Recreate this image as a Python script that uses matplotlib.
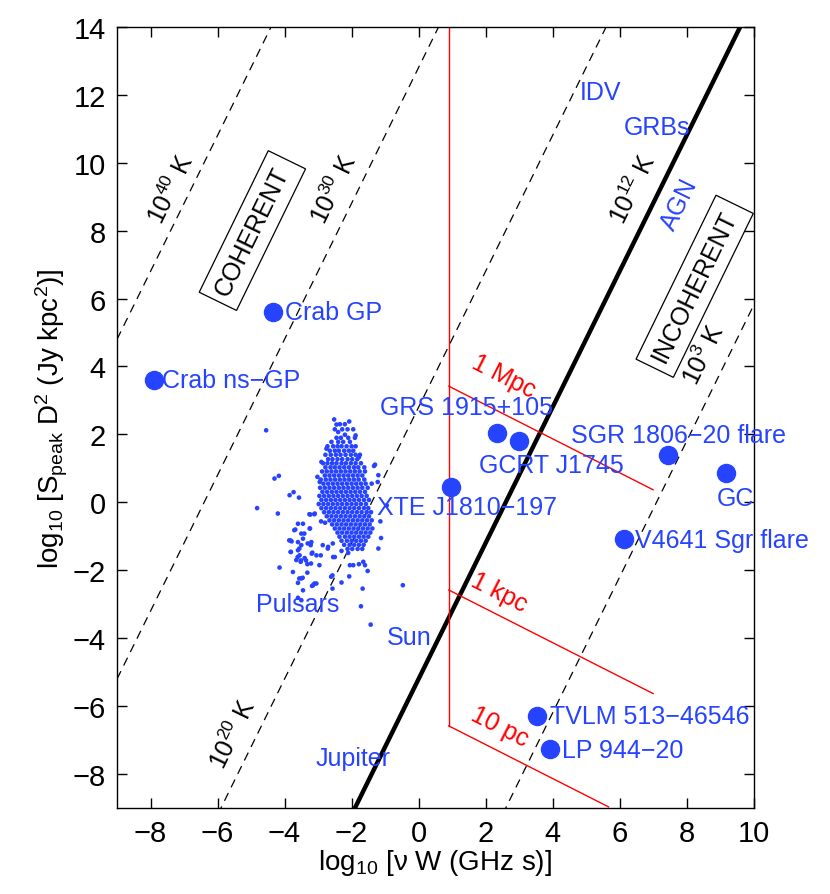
import matplotlib
matplotlib.use("Agg")
import matplotlib.pyplot as plt

plt.rcParams['font.family'] = ['Liberation Sans', 'DejaVu Sans']
plt.rcParams['mathtext.fontset'] = 'custom'
plt.rcParams['mathtext.rm'] = 'Liberation Sans'
plt.rcParams['mathtext.it'] = 'Liberation Sans:italic'
plt.rcParams['mathtext.bf'] = 'Liberation Sans:bold'

BLUE = "#2643ff"
RED = "#ff0000"

# brightness temperature lines: y = 2x + offset
temp_labels = ["40", "30", "20", "12", "3"]
temp_offsets = [22.8, 12.8, 2.8, -5.2, -14.2]

# distance lines (red): start at x=0.9 with these y, slope -1/2
dist_names = ["1 Mpc", "1 kpc", "10 pc"]
dist_y0 = [3.42, -2.58, -6.58]
dist_x_end = [7.0, 7.0, 5.67]
dist_x0 = 0.9

# named sources
src_names = ["Crab GP", "Crab ns\u2212GP", "GRS 1915+105", "GCRT J1745", "XTE J1810\u2212197",
             "SGR 1806\u221220 flare", "GC", "V4641 Sgr flare", "TVLM 513\u221246546", "LP 944\u221220"]
src_x = [-4.35, -7.9, 2.35, 3.0, 0.97, 7.44, 9.17, 6.13, 3.54, 3.92]
src_y = [5.6, 3.6, 2.04, 1.82, 0.46, 1.38, 0.85, -1.08, -6.28, -7.26]

# pulsars: sparse outskirts
pulsar_x = [-4.55, -4.82, -4.2, -4.3, -4.17, -3.85, -3.73, -3.57, -4.15, -3.75, -3.6, -3.45,
            -3.5, -3.32, -3.15, -3.05, -3.6, -3.5, -2.57, -2.57, -2.3, -2.07, -1.67, -1.72,
            -1.43, -0.47, -3.6, -3.45, -3.68, -3.5, -3.82, -3.6, -3.45, -3.5, -3.82, -3.6,
            -3.55, -3.4, -3.65, -3.52, -3.32, -3.2, -3.22, -3.17, -3.05, -2.92, -3.25, -3.23,
            -3.1, -2.7, -2.55, -2.5, -2.3, -2.1, -2.05, -1.95, -1.78, -1.65, -1.6, -1.52,
            -1.2, -1.12, -1.14, -0.95, -1.33, -1.3, -1.2, -1.22, -1.4, -2.52, -2.45, -2.07,
            -2.4, -2.2, -1.88, -2.75, -1.78, -2.9, -3.02, -2.95, -3.26, -3.11, -2.91, -2.79,
            -3.71, -3.41, -3.24, -3.86, -3.79, -2.61, -3.11, -3.18, -3.56, -3.46, -2.86,
            -2.71, -2.56, -2.96, -3.21, -3.36, -3.51, -3.61, -3.81, -3.19, -3.31, -3.56]
pulsar_y = [2.12, -0.17, -0.33, 0.7, 0.78, 0.21, 0.3, 0.14, -1.92, -2.05, -2.37, -2.59,
            -2.24, -2.07, -2.44, -2.39, -2.81, -2.88, -2.15, -2.54, -2.36, -2.18, -2.54, -3.06,
            -3.6, -2.44, -0.63, -0.63, -0.8, -0.92, -1.12, -1.17, -1.07, -1.26, -1.46, -1.41,
            -1.56, -1.64, -1.7, -1.75, -1.82, -1.17, -1.26, -1.48, -1.56, -1.56, -0.77, -0.36,
            -0.33, -1.31, -1.61, -1.61, -1.43, -1.49, -1.85, -1.85, -1.82, -1.75, -1.85, -2.02,
            -1.36, -1.05, -0.56, -0.09, 1.07, 1.11, 0.8, 0.6, 0.55, 2.44, 2.29, 2.38,
            2.07, 1.99, 1.97, 1.58, 1.33, 1.19, 0.75, 0.6, -0.35, -0.35, -0.56, -0.6,
            -0.82, -0.92, -0.77, -1.12, -1.15, -2.19, -2.39, -2.46, -2.24, -2.22, -1.26,
            -1.36, -1.21, -1.85, -1.8, -1.71, -1.71, -1.61, -1.46, -1.51, -1.21, -1.36]

# pulsars: dense core, one row per y level
pulsar_core_rows = [
    (2.30, [-2.35, -2.2]),
    (2.15, [-2.5, -2.28, -2.12, -1.95]),
    (1.90, [-2.45, -2.32, -2.1, -1.9]),
    (1.78, [-2.6, -2.4, -2.25, -2.05]),
    (1.65, [-2.72, -2.55, -2.42, -2.3, -2.15, -2.0, -1.88]),
    (1.52, [-2.65, -2.5, -2.38, -2.22, -2.08, -1.95]),
    (1.40, [-2.78, -2.62, -2.47, -2.33, -2.18, -2.02, -1.88, -1.75]),
    (1.27, [-2.7, -2.57, -2.42, -2.28, -2.12, -1.98, -1.83]),
    (1.15, [-2.85, -2.72, -2.58, -2.45, -2.3, -2.17, -2.02, -1.88, -1.72]),
    (1.03, [-2.78, -2.63, -2.5, -2.36, -2.22, -2.08, -1.93, -1.8, -1.62]),
    (0.91, [-2.88, -2.74, -2.6, -2.46, -2.32, -2.18, -2.04, -1.9, -1.76, -1.6]),
    (0.79, [-2.8, -2.66, -2.52, -2.38, -2.24, -2.1, -1.96, -1.82, -1.68]),
    (0.67, [-2.92, -2.77, -2.63, -2.49, -2.35, -2.21, -2.07, -1.93, -1.79, -1.62]),
    (0.55, [-2.84, -2.7, -2.56, -2.42, -2.28, -2.14, -2.0, -1.86, -1.72, -1.58]),
    (0.43, [-2.94, -2.8, -2.66, -2.52, -2.38, -2.24, -2.1, -1.96, -1.82, -1.68, -1.52]),
    (0.31, [-2.87, -2.73, -2.59, -2.45, -2.31, -2.17, -2.03, -1.89, -1.75, -1.6]),
    (0.19, [-2.96, -2.82, -2.68, -2.54, -2.4, -2.26, -2.12, -1.98, -1.84, -1.7, -1.55]),
    (0.07, [-2.9, -2.76, -2.62, -2.48, -2.34, -2.2, -2.06, -1.92, -1.78, -1.63, -1.48]),
    (-0.05, [-2.98, -2.84, -2.7, -2.56, -2.42, -2.28, -2.14, -2.0, -1.86, -1.72, -1.57]),
    (-0.17, [-2.9, -2.76, -2.62, -2.48, -2.34, -2.2, -2.06, -1.92, -1.78, -1.63, -1.5]),
    (-0.29, [-2.82, -2.68, -2.54, -2.4, -2.26, -2.12, -1.98, -1.84, -1.7, -1.55, -1.42]),
    (-0.41, [-2.74, -2.6, -2.46, -2.32, -2.18, -2.04, -1.9, -1.76, -1.62, -1.48]),
    (-0.53, [-2.66, -2.52, -2.38, -2.24, -2.1, -1.96, -1.82, -1.68, -1.54, -1.4]),
    (-0.65, [-2.58, -2.44, -2.3, -2.16, -2.02, -1.88, -1.74, -1.6, -1.46]),
    (-0.77, [-2.5, -2.36, -2.22, -2.08, -1.94, -1.8, -1.66, -1.52, -1.38]),
    (-0.89, [-2.42, -2.28, -2.14, -2.0, -1.86, -1.72, -1.58, -1.44]),
    (-1.01, [-2.36, -2.2, -2.06, -1.92, -1.78, -1.64, -1.5]),
    (-1.13, [-2.3, -2.14, -2.0, -1.86, -1.72, -1.58]),
    (-1.25, [-2.22, -2.06, -1.92, -1.78, -1.64]),
    (-1.37, [-2.12, -1.98, -1.82, -1.68]),
]

XMIN, XMAX, YMIN, YMAX = -9, 10, -9, 14

fig = plt.figure(figsize=(8.3, 8.95), dpi=100)
ax = fig.add_axes([0.141, 0.096, 0.767, 0.873])

# temperature lines
for lab, c in zip(temp_labels, temp_offsets):
    xs = [XMIN, XMAX]
    ys = [2 * x + c for x in xs]
    if lab == "12":
        ax.plot(xs, ys, color="black", lw=3.2, solid_capstyle="butt")
    else:
        ax.plot(xs, ys, color="black", lw=0.9, dashes=(7, 5))

# distance lines
ax.plot([dist_x0, dist_x0], [YMAX, dist_y0[-1]], color=RED, lw=1)
for y0, xe in zip(dist_y0, dist_x_end):
    ax.plot([dist_x0, xe], [y0, y0 - 0.5 * (xe - dist_x0)], color=RED, lw=1)

# pulsars
core_x = [x for y, row in pulsar_core_rows for x in row]
core_y = [y for y, row in pulsar_core_rows for x in row]
ax.scatter(pulsar_x + core_x, pulsar_y + core_y, s=11, color=BLUE, edgecolors="none", zorder=3)

# named sources
ax.plot(src_x, src_y, "o", color=BLUE, ms=13, mec=BLUE, zorder=4)

fs = 18
# source labels
lab_pos = [(-3.98, 5.6, "left"), (-7.65, 3.6, "left"), (1.43, 2.81, "center"),
           (3.97, 1.09, "center"), (1.44, -0.13, "center"), (7.76, 1.97, "center"),
           (9.45, 0.14, "center"), (6.46, -1.1, "left"), (3.91, -6.3, "left"),
           (4.27, -7.29, "left")]
for name, (lx, ly, ha) in zip(src_names, lab_pos):
    ax.text(lx, ly, name, color=BLUE, fontsize=fs, ha=ha, va="center", zorder=5)

# class labels
ax.text(5.42, 12.07, "IDV", color=BLUE, fontsize=fs, ha="center", va="center")
ax.text(7.12, 11.05, "GRBs", color=BLUE, fontsize=fs, ha="center", va="center")
ax.text(7.8, 8.78, "AGN", color=BLUE, fontsize=fs, ha="center", va="center", rotation=64)
ax.text(-3.61, -3.0, "Pulsars", color=BLUE, fontsize=fs, ha="center", va="center")
ax.text(-0.28, -3.97, "Sun", color=BLUE, fontsize=fs, ha="center", va="center")
ax.text(-1.96, -7.54, "Jupiter", color=BLUE, fontsize=fs, ha="center", va="center")

# temperature labels
temp_lab_pos = {"40": (-7.4, 9.23), "30": (-2.53, 9.23), "12": (6.4, 9.25),
                "3": (8.52, 4.37), "20": (-5.53, -6.8)}
for lab in temp_labels:
    tx, ty = temp_lab_pos[lab]
    ax.text(tx, ty, r"10$^{%s}$ K" % lab, fontsize=fs, ha="center", va="center", rotation=64)

box = dict(boxstyle="square,pad=0.35", fc="white", ec="black", lw=0.9)
ax.text(-4.96, 8.0, "COHERENT", fontsize=fs, ha="center", va="center", rotation=64, bbox=box)
ax.text(8.24, 6.36, "INCOHERENT", fontsize=fs, ha="center", va="center", rotation=64, bbox=box)

# distance labels
dist_lab_pos = [(2.53, 3.74), (2.4, -2.64), (2.43, -6.6)]
for name, (tx, ty) in zip(dist_names, dist_lab_pos):
    ax.text(tx, ty, name, color=RED, fontsize=fs, ha="center", va="center", rotation=-27)

ax.set_xlim(XMIN, XMAX)
ax.set_ylim(YMIN, YMAX)
ax.set_xticks(range(-8, 11, 2))
ax.set_yticks(range(-8, 15, 2))
ax.tick_params(direction="in", length=7, width=1, top=True, right=True, labelsize=21, pad=8)
for sp in ax.spines.values():
    sp.set_linewidth(1)
ax.set_xlabel(r"log$_{10}$ [ν W (GHz s)]", fontsize=20, labelpad=0)
ax.set_ylabel(r"log$_{10}$ [S$_{\rm peak}$ D$^2$ (Jy kpc$^2$)]", fontsize=20, labelpad=2)

fig.savefig("out.png", dpi=100)
